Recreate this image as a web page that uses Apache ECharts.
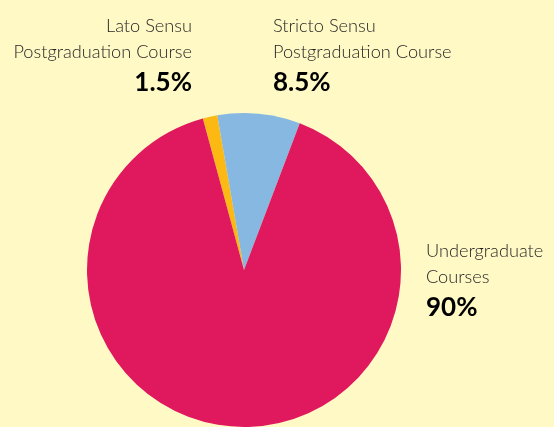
<!DOCTYPE html>
<html>
<head>
<meta charset="utf-8">
<script src="https://cdn.jsdelivr.net/npm/echarts@6/dist/echarts.min.js"></script>
<style>
  html, body { margin: 0; padding: 0; background: #FEF9C5; }
  #chart { width: 554px; height: 427px; }
</style>
</head>
<body>
<div id="chart"></div>
<script>
// Share of enrolments by course type
const categories = [
  'Lato Sensu\nPostgraduation Course',
  'Stricto Sensu\nPostgraduation Course',
  'Undergraduate\nCourses'
];
const shares = [1.5, 8.5, 90];
const sliceColors = ['#FDB913', '#86B8E1', '#E0195F'];

// Where each label block sits: [x, y, align]
const labelSpots = [
  [192, 13, 'right'],
  [273, 13, 'left'],
  [426, 238, 'left']
];

const chart = echarts.init(document.getElementById('chart'), null, { renderer: 'canvas' });

chart.setOption({
  backgroundColor: '#FEF9C5',
  animation: false,
  series: [{
    type: 'pie',
    center: [244, 270],
    radius: 157,
    startAngle: 105.2,
    clockwise: true,
    silent: true,
    data: categories.map((name, i) => ({
      name,
      value: shares[i],
      itemStyle: { color: sliceColors[i] }
    })),
    label: {
      show: true,
      position: 'outside',
      overflow: 'none',
      formatter: p => `{n|${p.name}}\n{v|${p.value}%}`,
      rich: {
        n: { fontFamily: 'Lato', fontWeight: 300, fontSize: 18.2, lineHeight: 26, color: '#231F20' },
        v: { fontFamily: 'Lato', fontWeight: 'bold', fontSize: 26, lineHeight: 36, color: '#000000' }
      }
    },
    labelLine: { show: false },
    labelLayout: params => {
      const s = labelSpots[params.dataIndex];
      return { x: s[0], y: s[1], align: s[2], verticalAlign: 'top' };
    }
  }]
});
</script>
</body>
</html>
